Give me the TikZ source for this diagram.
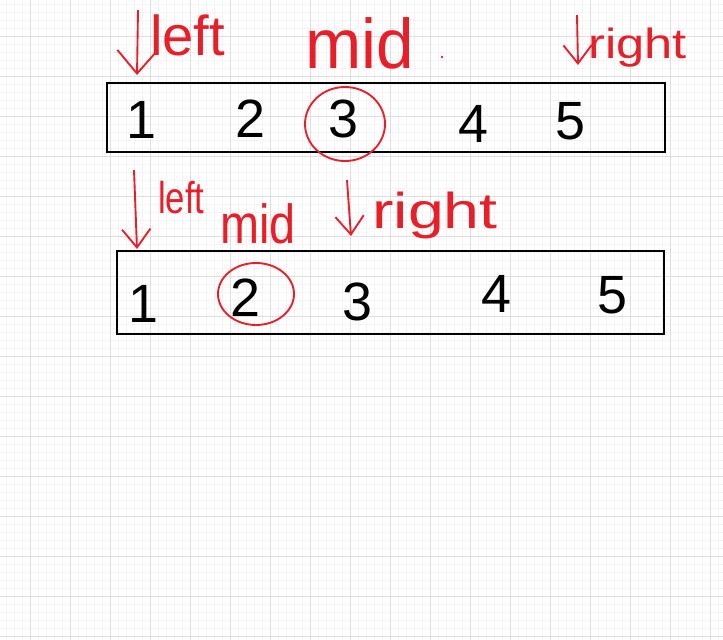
\documentclass[tikz,border=0pt]{standalone}
\usepackage{fontspec}
\setmainfont{Liberation Sans}
\usetikzlibrary{arrows.meta}
\definecolor{ink}{RGB}{232,30,40}
\definecolor{gridminor}{RGB}{243,243,243}
\definecolor{gridmajor}{RGB}{222,222,222}
\tikzset{
  digit/.style={font=\fontsize{46}{46}\selectfont, inner sep=0pt},
  note/.style={text=ink, anchor=base west, inner sep=0pt},
  ring/.style={draw=ink, line width=1.6pt},
  bigtip/.style={draw=ink, line width=1.6pt, -{Straight Barb[length=0.7cm,width=1.2cm]}},
  smalltip/.style={draw=ink, line width=1.6pt, -{Straight Barb[length=0.55cm,width=0.85cm]}},
  tray/.style={draw=black, line width=2pt}
}
\begin{document}
\begin{tikzpicture}[x=0.03cm, y=-0.03cm]
  \useasboundingbox (0,0) rectangle (723,640);
  \fill[white] (0,0) rectangle (723,640);
  % grid paper
  \foreach \x in {6.7,14.7,...,722}
    \draw[gridminor, line width=0.6pt] (\x,0) -- (\x,640);
  \foreach \y in {4,12,...,639}
    \draw[gridminor, line width=0.6pt] (0,\y) -- (723,\y);
  \foreach \x in {30.7,70.7,...,722}
    \draw[gridmajor, line width=0.6pt] (\x,0) -- (\x,640);
  \foreach \y in {36,76,...,639}
    \draw[gridmajor, line width=0.6pt] (0,\y) -- (723,\y);

  % first array
  \draw[tray] (107,83) rectangle (665,152);
  \draw
    (141,120) node[digit] (a1){1}
    (250,119) node[digit] (a2){2}
    (343,119) node[digit] (a3){3}
    (473,124) node[digit] (a4){4}
    (570,121) node[digit] (a5){5};
  \draw[ring] (345,124) ellipse (40 and 37);
  \coordinate (al0) at (138,10);
  \coordinate (al1) at (137,75);
  \coordinate (ar0) at (577,15);
  \coordinate (ar1) at (578,65);
  \node[note, font=\fontsize{48}{48}\selectfont] (aleft) at (150,55) {left};
  \node[note, font=\fontsize{60}{60}\selectfont] (amid) at (305,68) {\scalebox{0.96}[1]{mid}};
  \node[note, font=\fontsize{36}{36}\selectfont] (aright) at (588,58) {\scalebox{1.2}[1]{right}};
  \fill[ink] (442,57) circle (1.3);

  % second array
  \draw[tray] (117,251) rectangle (664,334);
  \draw
    (143,304) node[digit] (b1){1}
    (245,298) node[digit] (b2){2}
    (357,302) node[digit] (b3){3}
    (496,294) node[digit] (b4){4}
    (612,295) node[digit] (b5){5};
  \draw[ring] (256,294) ellipse (38 and 31);
  \coordinate (bl0) at (134,170);
  \coordinate (bl1) at (137,249);
  \coordinate (br0) at (347,180);
  \coordinate (br1) at (351,236);
  \node[note, font=\fontsize{38}{38}\selectfont] (bleft) at (158,213) {\scalebox{0.78}[1]{left}};
  \node[note, font=\fontsize{47}{47}\selectfont] (bmid) at (220,243) {\scalebox{0.85}[1]{mid}};
  \node[note, font=\fontsize{43}{43}\selectfont] (bright) at (372,228) {\scalebox{1.28}[1]{right}};

  \begin{scope}
    \draw[bigtip] (al0) to (al1);
    \draw[smalltip] (ar0) to (ar1);
    \draw[smalltip] (bl0) to (bl1);
    \draw[smalltip] (br0) to (br1);
  \end{scope}
\end{tikzpicture}
\end{document}
